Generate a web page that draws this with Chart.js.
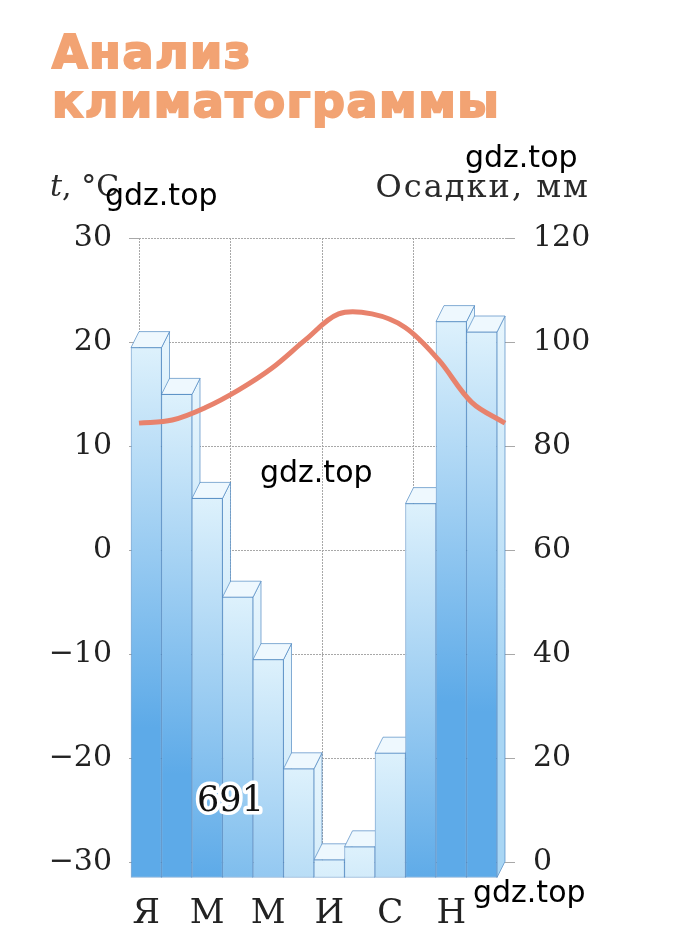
<!DOCTYPE html>
<html><head><meta charset="utf-8">
<script src="https://cdn.jsdelivr.net/npm/chart.js@4.4.0/dist/chart.umd.min.js"></script>
<style>
html,body{margin:0;padding:0;background:#fff;}
#wrap{position:relative;width:679px;height:952px;overflow:hidden;background:#fff;}
#c{position:absolute;left:0;top:0;}
.t{position:absolute;white-space:nowrap;line-height:1;}
.title{font-family:"DejaVu Sans",sans-serif;font-weight:700;font-size:46px;color:#F2A373;left:52px;letter-spacing:1.5px;-webkit-text-stroke:2px #F2A373;}
.ax{font-family:"DejaVu Serif",serif;font-size:30px;color:#2a2a2a;}
.wm{font-family:"DejaVu Sans",sans-serif;font-size:30px;color:#000;}
</style></head>
<body><div id="wrap">
<canvas id="c" width="679" height="952"></canvas>
<div class="t title" style="top:29px">Анализ</div>
<div class="t title" style="top:78px">климатограммы</div>
<div class="t ax" style="left:50px;top:171px"><i>t</i>, °C</div>
<div class="t ax" style="right:89px;top:170px;font-size:32px;letter-spacing:2px">Осадки, мм</div>
<div class="t wm" style="left:465px;top:142px">gdz.top</div>
<div class="t wm" style="left:105px;top:180px">gdz.top</div>
<div class="t wm" style="left:260px;top:457px">gdz.top</div>
<div class="t wm" style="left:473px;top:877px">gdz.top</div>
</div>
<script>
// ---- data ----
const months = ['Я','Ф','М','А','М','И','И','А','С','О','Н','Д'];
const precipitation = [102, 93, 73, 54, 42, 21, 3.5, 6, 24, 72, 107, 105];
const temperature = [12.2, 12.5, 13.7, 15.4, 17.5, 20.2, 22.7, 22.7, 21.4, 18.3, 14.2, 12.2];
const tempTicks = [-30, -20, -10, 0, 10, 20, 30];
const precipTicks = [0, 20, 40, 60, 80, 100, 120];
const annualTotal = 691;

// ---- style ----
const DX = 8, DY = 16;
const gridColor = '#a8a8a8';
const edgeColor = 'rgba(70,130,190,0.65)';

function hex(c){return [parseInt(c.slice(1,3),16),parseInt(c.slice(3,5),16),parseInt(c.slice(5,7),16)];}
function mix(a,b,t){const A=hex(a),B=hex(b);return 'rgb('+A.map((v,i)=>Math.round(v+(B[i]-v)*t)).join(',')+')';}
function barGradient(ctx, top, base, light, dark, reach){
  if (!isFinite(top) || !isFinite(base)) return light;
  const h = Math.max(base-top,1);
  const g = ctx.createLinearGradient(0, top, 0, base);
  g.addColorStop(0, light);
  if (h > reach){ g.addColorStop(reach/h, dark); g.addColorStop(1, dark); }
  else g.addColorStop(1, mix(light, dark, h/reach));
  return g;
}

const bar3d = {
  id:'bar3d',
  beforeDatasetDraw(chart,args){
    const meta = args.meta; if (meta.type !== 'bar') return;
    const ctx = chart.ctx, els = meta.data;
    els.forEach((el,i)=>{
      const {x,y,base,width} = el.getProps(['x','y','base','width'], true);
      if (![x,y,base,width].every(isFinite)) return;
      const l = x-width/2, r = x+width/2;
      ctx.save();
      const nxt = els[i+1];
      if (nxt){
        const p = nxt.getProps(['x','y','base','width'], true);
        ctx.beginPath();
        ctx.rect(0,0,chart.width,chart.height);
        ctx.rect(p.x-p.width/2-DX, p.y+DY, p.width, p.base-p.y+2);
        ctx.clip('evenodd');
      }
      ctx.lineWidth = 1; ctx.strokeStyle = edgeColor;
      ctx.beginPath();
      ctx.moveTo(r-DX,y+DY); ctx.lineTo(r,y); ctx.lineTo(r,base); ctx.lineTo(r-DX,base+DY); ctx.closePath();
      ctx.fillStyle = barGradient(ctx, y, base, '#E8F6FD', '#A9D6F4', 380);
      ctx.fill(); ctx.stroke();
      ctx.beginPath();
      ctx.moveTo(l-DX,y+DY); ctx.lineTo(r-DX,y+DY); ctx.lineTo(r,y); ctx.lineTo(l,y); ctx.closePath();
      ctx.fillStyle = '#EEF8FE'; ctx.fill(); ctx.stroke();
      ctx.restore();
    });
    ctx.save(); ctx.translate(-DX, DY);
  },
  afterDatasetDraw(chart,args){ if (args.meta.type === 'bar') chart.ctx.restore(); }
};

const totalLabel = {
  id:'totalLabel',
  afterDatasetsDraw(chart){
    const ctx = chart.ctx;
    const x = chart.scales.x.getPixelForValue(2.5);
    const y = chart.scales.p.getPixelForValue(11.5);
    ctx.save();
    ctx.font = '35px "DejaVu Serif", serif';
    ctx.textAlign = 'center'; ctx.textBaseline = 'middle';
    ctx.lineJoin = 'round'; ctx.lineWidth = 7; ctx.strokeStyle = '#ffffff';
    ctx.strokeText(String(annualTotal), x, y);
    ctx.fillStyle = '#111'; ctx.fillText(String(annualTotal), x, y);
    ctx.restore();
  }
};

const tickFont = {family:'"DejaVu Serif", serif', size:30};
const minus = v => v < 0 ? '\u2212' + Math.abs(v) : String(v);

new Chart(document.getElementById('c'), {
  data:{
    labels: months,
    datasets:[
      {type:'line', label:'t', data: temperature, xAxisID:'x2', yAxisID:'t',
       borderColor:'#E8826C', borderWidth:5, pointRadius:0, tension:0.35, order:0, clip:false},
      {type:'bar', label:'P', data: precipitation, xAxisID:'x', yAxisID:'p',
       grouped:false, barPercentage:1, categoryPercentage:1, clip:false, order:1,
       borderColor: edgeColor, borderWidth:1, borderSkipped:false,
       backgroundColor(c){
         const ch = c.chart, s = ch.scales && ch.scales.p;
         if (!s || c.type !== 'data') return '#9fd0f2';
         return barGradient(ch.ctx, s.getPixelForValue(c.raw), s.getPixelForValue(0), '#DDF1FC', '#5DAAE8', 380);
       }}
    ]
  },
  options:{
    responsive:false, animation:false, devicePixelRatio:1,
    layout:{padding:{top:238,left:0,right:0,bottom:0}},
    plugins:{legend:{display:false}, tooltip:{enabled:false}, title:{display:false}},
    scales:{
      x:{type:'category', offset:true, position:'bottom',
         grid:{offset:true, drawTicks:false, lineWidth:1, color:c => (c.index % 3 === 0) ? gridColor : 'rgba(0,0,0,0)'},
         border:{display:false, dash:[2,1]},
         ticks:{autoSkip:false, maxRotation:0, labelOffset:-DX, padding:32, color:'#222',
                font:{family:'"DejaVu Serif", serif', size:34},
                callback:(v,i) => i % 2 === 0 ? months[i] : ''},
         afterFit(s){ s.height = 90; }},
      x2:{type:'category', offset:false, display:false},
      t:{type:'linear', position:'left', min:-30, max:30,
         afterBuildTicks(s){ s.ticks = tempTicks.map(v => ({value:v})); },
         ticks:{padding:17, color:'#222', font:tickFont, callback:v => minus(v)},
         grid:{color:gridColor, lineWidth:1, tickLength:10},
         border:{display:false, dash:[2,1]},
         afterFit(s){ s.width = 139; }},
      p:{type:'linear', position:'right', min:0, max:120,
         afterBuildTicks(s){ s.ticks = precipTicks.map(v => ({value:v})); },
         ticks:{padding:18, color:'#222', font:tickFont},
         grid:{drawOnChartArea:false, color:gridColor, lineWidth:1, tickLength:10},
         border:{display:false, dash:[2,1]},
         afterFit(s){ s.width = 174; }}
    }
  },
  plugins:[bar3d, totalLabel]
});
</script>
</body></html>
